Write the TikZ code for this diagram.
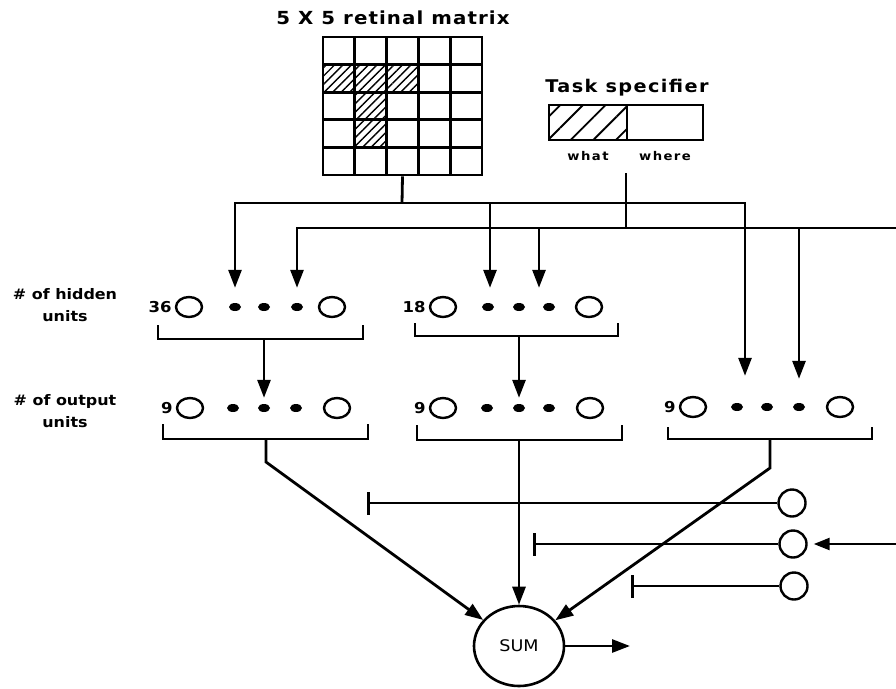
\documentclass[tikz,border=0pt]{standalone}
\usepackage{fontspec}
\setmainfont{DejaVu Sans}[FakeStretch=1.1]
\usepackage{tikz}
\usetikzlibrary{shapes.geometric, arrows.meta, positioning, calc, patterns.meta}
\tikzset{
  arrow/.style={-{Triangle[width=13pt,length=18pt]}, line width=2.8pt},
  thinarrow/.style={-{Triangle[width=12pt,length=16pt]}, line width=2.4pt},
  line/.style={line width=2.8pt},
  bracket/.style={line width=2.8pt},
  inhib/.style={-{Bar[width=23pt,line width=2.6pt]}, line width=2.4pt},
  cellhatch/.style={pattern={Lines[angle=45,distance=6pt,line width=1.4pt]}},
  taskhatch/.style={pattern={Lines[angle=45,distance=16pt,line width=1.8pt]}},
  unit/.style={ellipse, draw, line width=2.4pt, minimum width=26pt,
    minimum height=20pt, inner sep=0pt},
  dotunit/.style={ellipse, fill, minimum width=12pt, minimum height=8pt, inner sep=0pt},
  gate/.style={circle, draw, line width=2.4pt, minimum size=27pt, inner sep=0pt},
  lbl/.style={font=\bfseries\fontsize{14.5}{22}\selectfont, align=center, inner sep=0pt},
  num/.style={font=\bfseries\fontsize{15}{18}\selectfont, inner sep=0pt},
  tag/.style={font=\bfseries\fontsize{12}{14}\selectfont\addfontfeatures{LetterSpace=12}, inner sep=0pt}
}

\begin{document}
\begin{tikzpicture}[x=1pt, y=-1pt]
  \useasboundingbox (0,0) rectangle (896,688);

  % Retinal matrix
  \node[font=\bfseries\fontsize{18}{22}\selectfont\addfontfeatures{LetterSpace=6}] (title) at (393,18) {5 X 5 retinal matrix};
  \fill[cellhatch] (323,64.6) rectangle (418.4,92.2);
  \fill[cellhatch] (354.8,92.2) rectangle (386.6,147.4);
  \node[draw, line width=2.8pt, minimum width=159pt, minimum height=138pt, inner sep=0pt] (retina) at (402.5,106) {};
  \draw[line] (354.8,37) -- (354.8,175);
  \draw[line] (386.6,37) -- (386.6,175);
  \draw[line] (418.4,37) -- (418.4,175);
  \draw[line] (450.2,37) -- (450.2,175);
  \draw[line] (323,64.6) -- (482,64.6);
  \draw[line] (323,92.2) -- (482,92.2);
  \draw[line] (323,119.8) -- (482,119.8);
  \draw[line] (323,147.4) -- (482,147.4);

  % Task specifier
  \node[font=\bfseries\fontsize{17.5}{20}\selectfont\addfontfeatures{LetterSpace=8}] (tasklbl) at (627,88) {Task specifier};
  \node[draw, line width=2.8pt, taskhatch, minimum width=78pt, minimum height=35pt, inner sep=0pt] (what) at (588,122.5) {};
  \node[draw, line width=2.8pt, minimum width=76pt, minimum height=35pt, inner sep=0pt] (where) at (665,122.5) {};
  \node[tag, below=10pt of what] (whatlbl) {what};
  \node[tag, below=10pt of where] (wherelbl) {where};

  % Row labels
  \node[lbl] (hidlbl) at (65,305) {\# of hidden\\units};
  \node[lbl] (outlbl) at (65,411) {\# of output\\units};

  % Hidden layer 1
  \node[unit] (h1a) at (189,307) {};
  \node[dotunit] (h1d1) at (235,307) {};
  \node[dotunit] (h1d2) at (264,307) {};
  \node[dotunit] (h1d3) at (297,307) {};
  \node[unit] (h1b) at (332,307) {};
  \node[num, left=3pt of h1a] (h1n) {36};
  \draw[bracket] (158,325) -- (158,339) -- (363,339) -- (363,325);
  \coordinate (hs1) at (264,339);

  % Hidden layer 2
  \node[unit] (h2a) at (443,307) {};
  \node[dotunit] (h2d1) at (488,307) {};
  \node[dotunit] (h2d2) at (519,307) {};
  \node[dotunit] (h2d3) at (549,307) {};
  \node[unit] (h2b) at (589,307) {};
  \node[num, left=3pt of h2a] (h2n) {18};
  \draw[bracket] (415,323) -- (415,336) -- (618,336) -- (618,323);
  \coordinate (hs2) at (519,336);

  % Output layer 1
  \node[unit] (o1a) at (190,408) {};
  \node[dotunit] (o1d1) at (233,408) {};
  \node[dotunit] (o1d2) at (264,408) {};
  \node[dotunit] (o1d3) at (296,408) {};
  \node[unit] (o1b) at (337,408) {};
  \node[num, left=3pt of o1a] (o1n) {9};
  \draw[bracket] (163,424) -- (163,439) -- (368,439) -- (368,424);
  \coordinate (os1) at (266,439);
  \coordinate (ok1) at (266,462);

  % Output layer 2
  \node[unit] (o2a) at (443,408) {};
  \node[dotunit] (o2d1) at (487,408) {};
  \node[dotunit] (o2d2) at (519,408) {};
  \node[dotunit] (o2d3) at (549,408) {};
  \node[unit] (o2b) at (590,408) {};
  \node[num, left=3pt of o2a] (o2n) {9};
  \draw[bracket] (417,425) -- (417,440) -- (622,440) -- (622,425);
  \coordinate (os2) at (519,440);

  % Output layer 3
  \node[unit] (o3a) at (693,407) {};
  \node[dotunit] (o3d1) at (737,407) {};
  \node[dotunit] (o3d2) at (767,407) {};
  \node[dotunit] (o3d3) at (799,407) {};
  \node[unit] (o3b) at (840,407) {};
  \node[num, left=3pt of o3a] (o3n) {9};
  \draw[bracket] (668,427) -- (668,439) -- (872,439) -- (872,427);
  \coordinate (os3) at (770,439);
  \coordinate (ok3) at (770,468);

  % Sum and gating units
  \node[ellipse, draw, line width=2.6pt, minimum width=90pt, minimum height=80pt, inner sep=0pt,
    font=\fontsize{16}{20}\selectfont] (sum) at (519,646) {SUM};
  \coordinate (sumout) at (630,646);
  \node[gate] (g1) at (792,503) {};
  \node[gate] (g2) at (793,544) {};
  \node[gate] (g3) at (794,586) {};
  \coordinate (tb1) at (367,503);
  \coordinate (tb2) at (533,544);
  \coordinate (tb3) at (631,586);
  \coordinate (gin) at (896,544);

  % Input buses
  \coordinate (rbus) at (402,203);
  \coordinate (tstem) at (626,173);
  \coordinate (tbus) at (626,228);
  \coordinate (tend) at (896,228);
  \draw[line] (retina.south) -- (rbus);
  \draw[line] (tstem) -- (tbus) -- (tend);
  \draw[arrow] (rbus) -| ([yshift=15pt]h1d1.north);
  \draw[arrow] (rbus) -| ([xshift=2pt, yshift=15pt]h2d1.north);
  \draw[arrow] (rbus) -| ([xshift=8pt, yshift=27pt]o3d1.north);
  \draw[arrow] (tbus) -| ([yshift=15pt]h1d3.north);
  \draw[arrow] (tbus) -| ([xshift=-10pt, yshift=15pt]h2d3.north);
  \draw[arrow] (tbus) -| ([yshift=24pt]o3d3.north);

  % Hidden to output
  \draw[arrow] (hs1) -- ([yshift=6pt]o1d2.north);
  \draw[arrow] (hs2) -- ([yshift=6pt]o2d2.north);

  % Outputs to sum
  \draw[arrow] (os1) -- (ok1) -- (sum);
  \draw[arrow] (os2) -- (sum.north);
  \draw[arrow] (os3) -- (ok3) -- (sum);
  \draw[arrow] (sum.east) -- (sumout);

  % Gating lines
  \draw[inhib] (g1) -- (tb1);
  \draw[inhib] (g2) -- (tb2);
  \draw[inhib] (g3) -- (tb3);
  \draw[thinarrow, shorten >=6pt] (gin) -- (g2);
\end{tikzpicture}
\end{document}
